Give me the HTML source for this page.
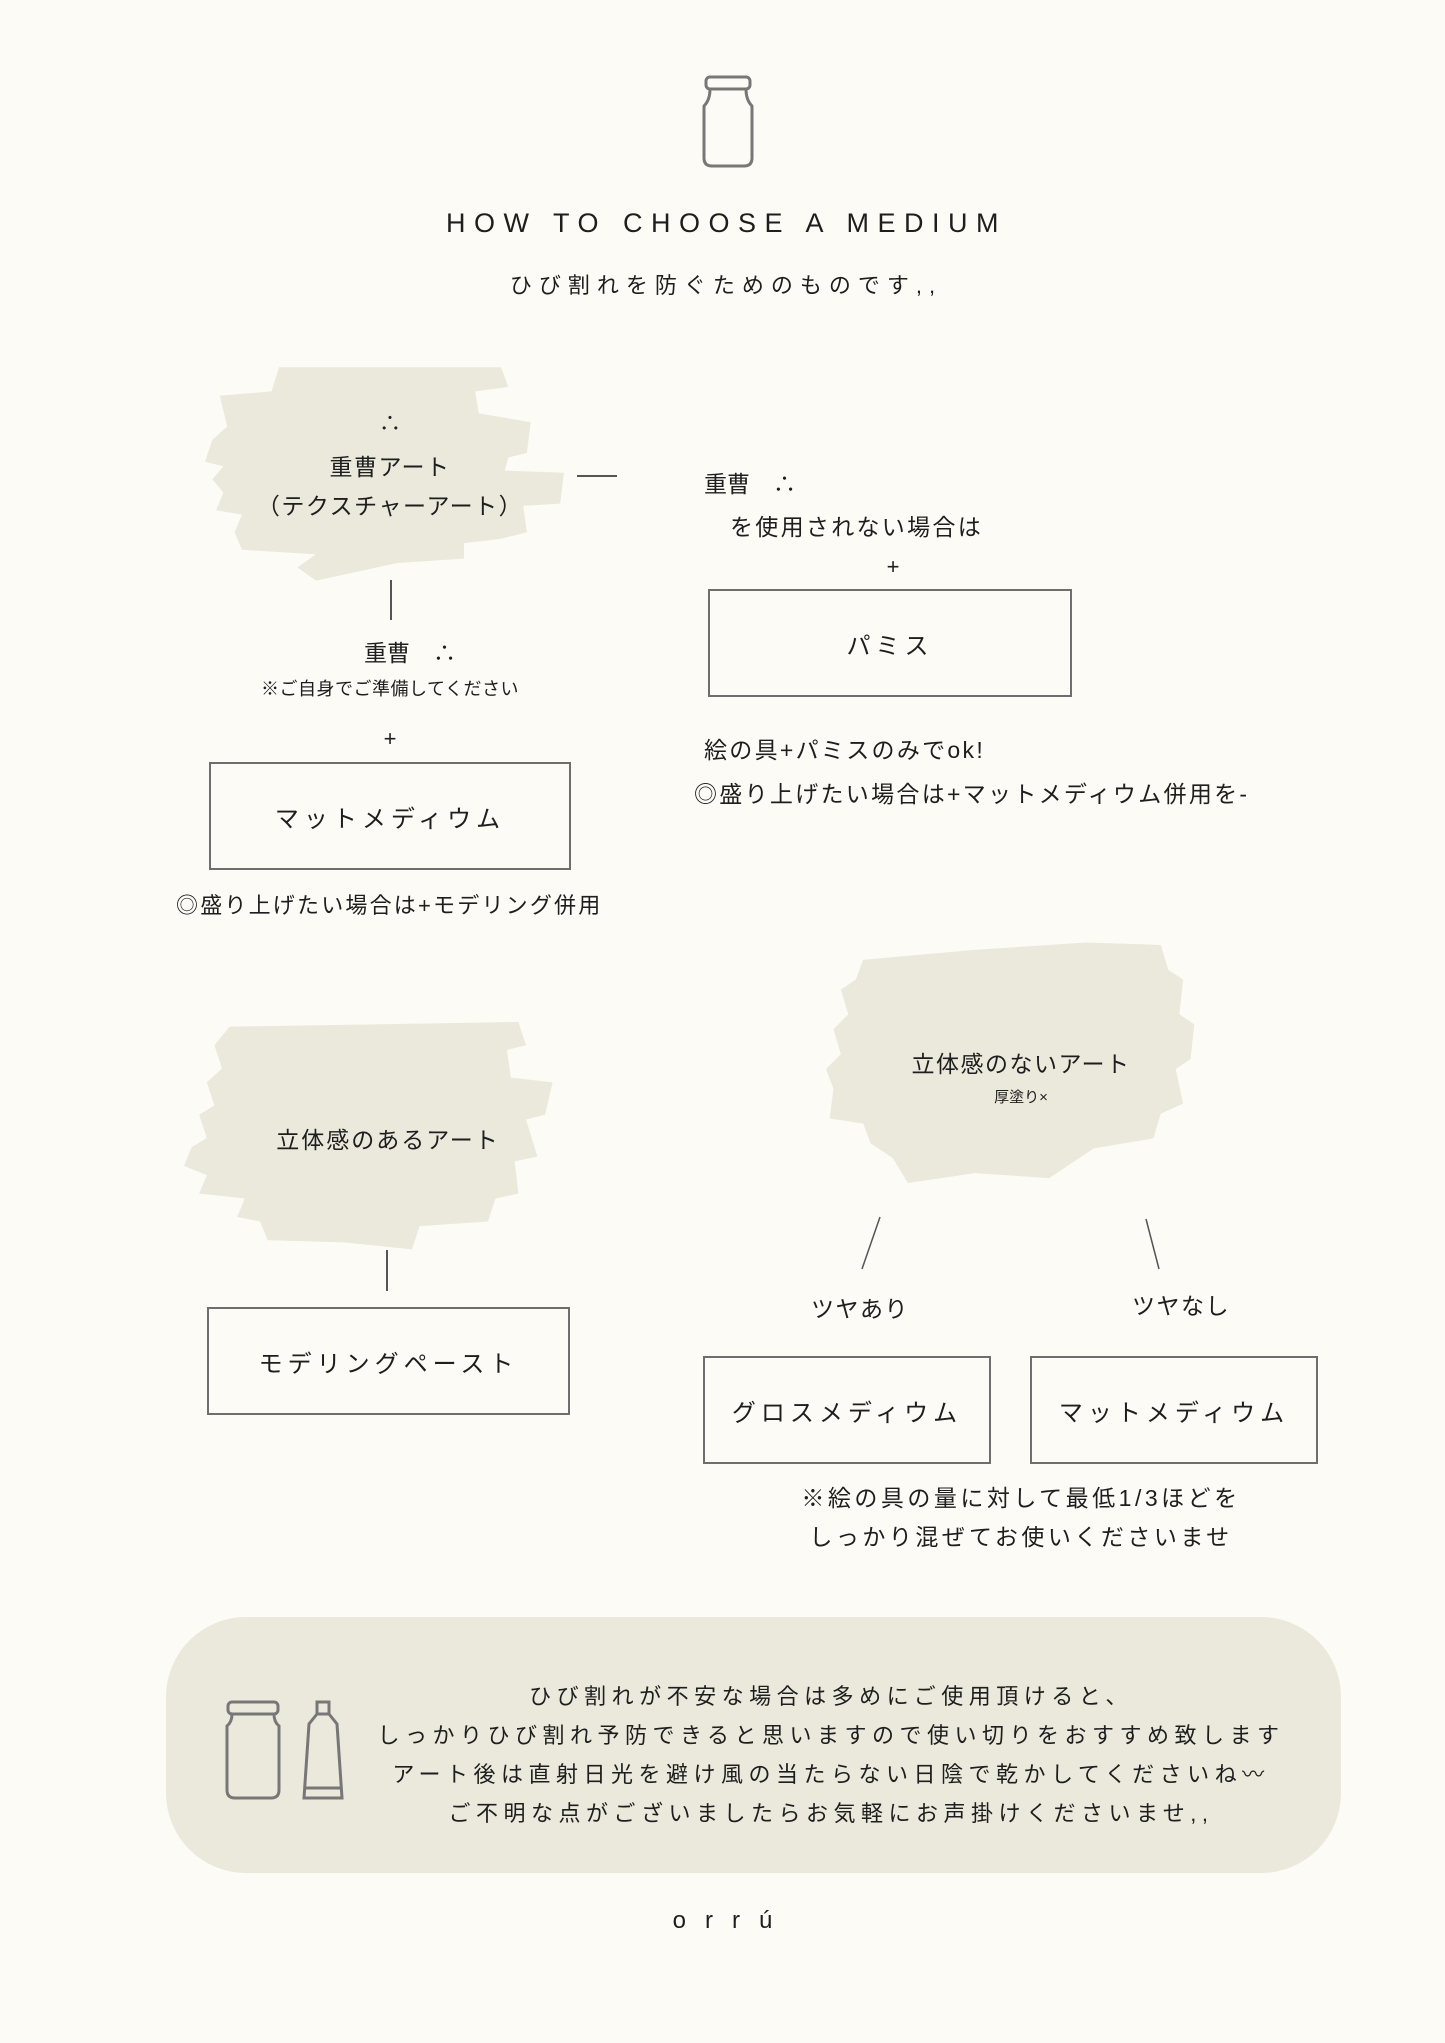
<!DOCTYPE html>
<html><head><meta charset="utf-8"><style>
*{margin:0;padding:0;box-sizing:border-box}
body{width:1445px;height:2043px;background:#fcfbf6;position:relative;overflow:hidden;font-family:"Liberation Sans","Noto Sans CJK JP",sans-serif;color:#1e1e1e}
.a{position:absolute;white-space:nowrap}
.c{position:absolute;text-align:center;white-space:nowrap}
.box{position:absolute;border:2px solid #6e6e6e;display:flex;align-items:center;justify-content:center;font-size:24px;letter-spacing:5px}
.ln{position:absolute;background:#555}
svg.br{position:absolute}
</style></head><body>

<svg class="a" style="left:698px;top:74px" width="60" height="96" viewBox="0 0 60 96">
<rect x="8" y="3" width="44" height="12" rx="4" fill="none" stroke="#777" stroke-width="3"/>
<path d="M12 15 Q12 26 6 32 L6 84 Q6 92 14 92 L46 92 Q54 92 54 84 L54 32 Q48 26 48 15" fill="none" stroke="#777" stroke-width="3"/>
</svg>

<div class="c" style="left:0;width:1445px;top:208px;font-size:27px;letter-spacing:8.5px;padding-left:8px">HOW TO CHOOSE A MEDIUM</div>
<div class="c" style="left:0;width:1445px;top:268px;font-size:22px;letter-spacing:7px;padding-left:7px">ひび割れを防ぐためのものです,,</div>

<svg class="br" style="left:205px;top:365px" width="370" height="220" viewBox="0 0 100 100" preserveAspectRatio="none">
<path fill="#ebe8dc" d="M20 1 L80 1 L82 10 L73 12 L74 22 L88 26 L87 40 L82 42 L81 48 L97 49 L96 63 L86 64 L87 76 L80 79 L70 81 L70 88 L52 90 L30 98 L25 92 L30 86 L10 84 L8 76 L10 68 L3 66 L5 58 L2 52 L5 46 L0 44 L2 34 L6 28 L4 14 L18 12 Z"/>
</svg>
<svg class="br" style="left:184px;top:1022px" width="380" height="232" viewBox="0 0 100 100" preserveAspectRatio="none">
<path fill="#ebe8dc" d="M12 2 L88 0 L90 10 L85 12 L86 24 L97 26 L95 40 L90 42 L93 58 L87 60 L88 74 L82 76 L80 86 L62 88 L60 98 L42 95 L22 94 L20 86 L14 84 L16 76 L4 74 L6 66 L0 62 L2 54 L6 50 L4 40 L8 36 L6 26 L10 20 L8 10 Z"/>
</svg>
<svg class="br" style="left:826px;top:940px" width="372" height="248" viewBox="0 0 100 100" preserveAspectRatio="none">
<path fill="#ebe8dc" d="M10 8 L40 4 L70 1 L90 2 L92 12 L96 16 L95 30 L99 34 L98 48 L94 52 L96 66 L90 70 L88 80 L72 84 L60 96 L40 94 L22 98 L18 88 L12 82 L10 74 L1 72 L2 60 L0 52 L4 46 L2 36 L6 30 L4 20 L8 16 Z"/>
</svg>

<div class="c" style="left:205px;width:370px;top:406px;font-size:22px">∴</div>
<div class="c" style="left:205px;width:370px;top:448px;font-size:23px;letter-spacing:1.5px">重曹アート</div>
<div class="c" style="left:205px;width:370px;top:487px;font-size:23px;letter-spacing:1.5px">（テクスチャーアート）</div>
<div class="ln" style="left:577px;top:475px;width:40px;height:1.5px"></div>
<div class="ln" style="left:390px;top:580px;width:1.5px;height:40px"></div>
<div class="c" style="left:280px;width:260px;top:634px;font-size:23px">重曹　∴</div>
<div class="c" style="left:220px;width:340px;top:675px;font-size:18px;letter-spacing:0.5px">※ご自身でご準備してください</div>
<div class="c" style="left:340px;width:100px;top:726px;font-size:22px">+</div>
<div class="box" style="left:209px;top:762px;width:362px;height:108px">マットメディウム</div>
<div class="a" style="left:176px;top:888px;font-size:22px;letter-spacing:2.2px">◎盛り上げたい場合は+モデリング併用</div>

<div class="a" style="left:704px;top:465px;font-size:23px">重曹　∴</div>
<div class="a" style="left:730px;top:508px;font-size:23px;letter-spacing:2.3px">を使用されない場合は</div>
<div class="c" style="left:843px;width:100px;top:554px;font-size:22px">+</div>
<div class="box" style="left:708px;top:589px;width:364px;height:108px">パミス</div>
<div class="a" style="left:704px;top:731px;font-size:23px;letter-spacing:2.3px">絵の具+パミスのみでok!</div>
<div class="a" style="left:694px;top:775px;font-size:23px;letter-spacing:2.3px">◎盛り上げたい場合は+マットメディウム併用を-</div>

<div class="c" style="left:207px;width:362px;top:1121px;font-size:23px;letter-spacing:2px">立体感のあるアート</div>
<div class="ln" style="left:386px;top:1250px;width:1.5px;height:41px"></div>
<div class="box" style="left:207px;top:1307px;width:363px;height:108px">モデリングペースト</div>

<div class="c" style="left:871px;width:300px;top:1045px;font-size:23px;letter-spacing:1.5px">立体感のないアート</div>
<div class="c" style="left:971px;width:100px;top:1086px;font-size:15px">厚塗り×</div>
<svg class="a" style="left:0;top:0" width="1445" height="2043"><line x1="880" y1="1217" x2="862" y2="1269" stroke="#555" stroke-width="1.5"/><line x1="1146" y1="1219" x2="1159" y2="1269" stroke="#555" stroke-width="1.5"/></svg>
<div class="c" style="left:760px;width:200px;top:1290px;font-size:23px;letter-spacing:1.5px">ツヤあり</div>
<div class="c" style="left:1081px;width:200px;top:1287px;font-size:23px;letter-spacing:1.5px">ツヤなし</div>
<div class="box" style="left:703px;top:1356px;width:288px;height:108px">グロスメディウム</div>
<div class="box" style="left:1030px;top:1356px;width:288px;height:108px">マットメディウム</div>
<div class="c" style="left:771px;width:500px;top:1479px;font-size:23px;letter-spacing:3.5px">※絵の具の量に対して最低1/3ほどを</div>
<div class="c" style="left:771px;width:500px;top:1518px;font-size:23px;letter-spacing:3.5px">しっかり混ぜてお使いくださいませ</div>

<div class="a" style="left:166px;top:1617px;width:1175px;height:256px;border-radius:80px;background:#ebe8dc"></div>
<svg class="a" style="left:222px;top:1698px" width="130" height="106" viewBox="0 0 130 106">
<rect x="6" y="4" width="50" height="12" rx="4" fill="none" stroke="#777" stroke-width="3"/>
<path d="M10 16 Q10 24 5 28 L5 92 Q5 100 13 100 L49 100 Q57 100 57 92 L57 28 Q52 24 52 16" fill="none" stroke="#777" stroke-width="3"/>
<rect x="95" y="4" width="12" height="12" fill="none" stroke="#777" stroke-width="3"/>
<path d="M95 16 L87 26 L82 100 L120 100 L115 26 L107 16" fill="none" stroke="#777" stroke-width="3"/>
<line x1="82" y1="90" x2="120" y2="90" stroke="#777" stroke-width="3"/>
</svg>
<div class="c" style="left:331px;width:1000px;top:1679px;font-size:22px;letter-spacing:5.5px">ひび割れが不安な場合は多めにご使用頂けると、</div>
<div class="c" style="left:331px;width:1000px;top:1718px;font-size:22px;letter-spacing:5.5px">しっかりひび割れ予防できると思いますので使い切りをおすすめ致します</div>
<div class="c" style="left:331px;width:1000px;top:1757px;font-size:22px;letter-spacing:5.5px">アート後は直射日光を避け風の当たらない日陰で乾かしてくださいね〰</div>
<div class="c" style="left:331px;width:1000px;top:1796px;font-size:22px;letter-spacing:5.5px">ご不明な点がございましたらお気軽にお声掛けくださいませ,,</div>

<div class="c" style="left:0;width:1445px;top:1907px;font-size:24px;letter-spacing:19px;padding-left:19px">orrú</div>
</body></html>
